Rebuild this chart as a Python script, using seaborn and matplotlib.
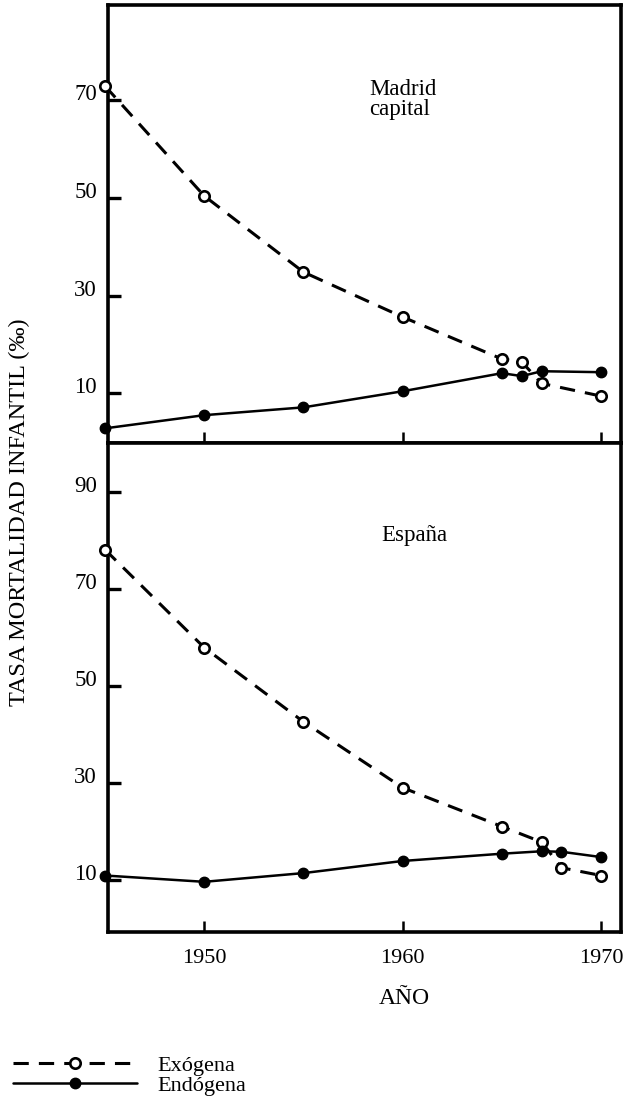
import pandas as pd
import matplotlib.pyplot as plt
import seaborn as sns

# Valores (tasa por mil)
madrid_years = [1945, 1950, 1955, 1960, 1965, 1966, 1967, 1970]
madrid_exogena = [72.9, 50.4, 34.8, 25.6, 17.0, 16.4, 12.0, 9.4]
madrid_endogena = [2.8, 5.5, 7.1, 10.4, 14.1, 13.5, 14.5, 14.3]

espana_years = [1945, 1950, 1955, 1960, 1965, 1967, 1968, 1970]
espana_exogena = [78.1, 57.9, 42.6, 29.0, 21.0, 17.8, 12.5, 10.9]
espana_endogena = [10.9, 9.6, 11.4, 13.9, 15.4, 15.9, 15.8, 14.7]

x_ticks = [1950, 1960, 1970]
madrid_yticks = [10, 30, 50, 70]
espana_yticks = [10, 30, 50, 70, 90]

# Long format table
rows = []
for region, years, exo, endo in [("Madrid", madrid_years, madrid_exogena, madrid_endogena),
                                 ("España", espana_years, espana_exogena, espana_endogena)]:
    for y, v in zip(years, exo):
        rows.append((region, "Exógena", y, v))
    for y, v in zip(years, endo):
        rows.append((region, "Endógena", y, v))
df = pd.DataFrame(rows, columns=["Region", "Tipo", "Año", "Tasa"])

sns.set_style("ticks")
plt.rcParams['font.family'] = ['Liberation Serif', 'DejaVu Serif']
for key in ['text.color', 'axes.labelcolor', 'xtick.color', 'ytick.color', 'axes.edgecolor']:
    plt.rcParams[key] = 'black'

fig = plt.figure(figsize=(6.25, 10.98), dpi=100)
left, width = 108 / 625, (621 - 108) / 625
ax_top = fig.add_axes([left, 1 - 443 / 1098, width, 438 / 1098])
ax_bot = fig.add_axes([left, 1 - 932 / 1098, width, 489 / 1098])

styles = {
    "Exógena": dict(linestyle=(0, (5, 3.3)), linewidth=2.2, marker="o", markersize=7.5,
                    markerfacecolor="white", markeredgecolor="black", markeredgewidth=1.9),
    "Endógena": dict(linestyle="-", linewidth=1.8, marker="o", markersize=7.5,
                     markerfacecolor="black", markeredgecolor="black", markeredgewidth=1),
}

for ax, region in [(ax_top, "Madrid"), (ax_bot, "España")]:
    for tipo in ["Exógena", "Endógena"]:
        sub = df[(df["Region"] == region) & (df["Tipo"] == tipo)]
        sns.lineplot(data=sub, x="Año", y="Tasa", ax=ax, color="black",
                     label=tipo, clip_on=False, zorder=3, **styles[tipo])
    ax.get_legend().remove()
    ax.set_xlim(1945.15, 1971.0)
    ax.set_xticks(x_ticks)
    ax.set_xlabel("")
    ax.set_ylabel("")
    for s in ax.spines.values():
        s.set_visible(True)
        s.set_linewidth(2.6)
        s.set_color("black")
    ax.tick_params(axis="y", direction="in", length=9.5, width=2.4, pad=8, labelsize=16.5)
    ax.tick_params(axis="x", direction="in", length=8, width=1.8, pad=12, labelsize=16)

ax_top.set_ylim(-0.2, 89.5)
ax_top.set_yticks(madrid_yticks)
ax_top.tick_params(axis="x", labelbottom=False)
ax_bot.set_ylim(-0.75, 100.1)
ax_bot.set_yticks(espana_yticks)

for ax in (ax_top, ax_bot):
    for lab in ax.get_yticklabels():
        lab.set_verticalalignment("baseline")

ax_top.text(1958.3, 74.3, "Madrid\ncapital", ha="left", va="top", fontsize=16.5, linespacing=0.95)
ax_bot.text(1958.9, 81.0, "España", ha="left", va="center", fontsize=16.5)

ax_bot.set_xlabel("AÑO", fontsize=17)
ax_bot.xaxis.set_label_coords((404 - 108) / 513, -0.1145)
fig.text(19 / 625, 1 - 512 / 1098, "TASA MORTALIDAD INFANTIL (‰)", rotation=90,
         ha="center", va="center", fontsize=17.5)

handles, labels = ax_bot.get_legend_handles_labels()
fig.legend(handles, labels, loc="upper left", bbox_to_anchor=(13 / 625, 1 - 1055 / 1098),
           frameon=False, fontsize=16, handlelength=5.6, handletextpad=0.9,
           labelspacing=0.0, borderpad=0, borderaxespad=0)

plt.savefig("out.png", dpi=100)
